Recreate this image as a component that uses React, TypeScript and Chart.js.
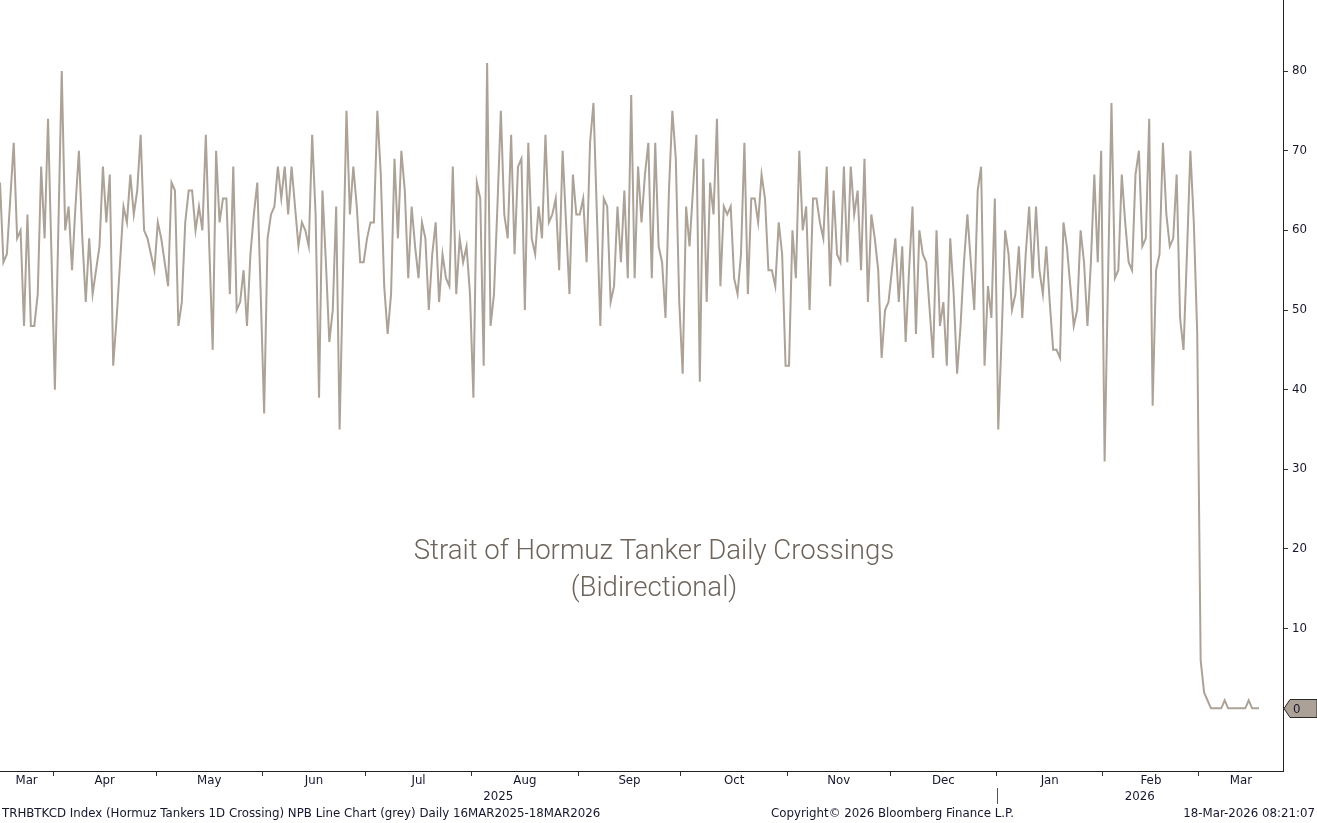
import React, { useEffect, useRef } from 'react';
import { Chart, registerables } from 'chart.js';

Chart.register(...registerables);

// Daily series, one value per day starting 16-Mar-2025 (day 0) to 18-Mar-2026 (day 367)
const startDate = '2025-03-16';
const crossings: number[] = [
  66, 56, 57, 64, 71, 59, 60, 48, 62, 48, 48, 52, 68, 59, 74, 57, 40, 60, 80, 60,
  63, 55, 63, 70, 59, 51, 59, 52, 55, 58, 68, 61, 67, 43, 49, 56, 63, 61, 67, 62,
  65, 72, 60, 59, 57, 55, 61, 59, 56, 53, 66, 65, 48, 51, 61, 65, 65, 60, 63, 60,
  72, 58, 45, 70, 61, 64, 64, 52, 68, 50, 51, 55, 48, 57, 62, 66, 52, 37, 59, 62,
  63, 68, 64, 68, 62, 68, 63, 58, 61, 60, 58, 72, 62, 39, 65, 56, 46, 50, 63, 35,
  55, 75, 62, 68, 63, 56, 56, 59, 61, 61, 75, 67, 53, 47, 52, 69, 59, 70, 65, 54,
  63, 58, 54, 61, 59, 50, 57, 61, 51, 57, 54, 53, 68, 52, 59, 56, 58, 52, 39, 66,
  64, 43, 81, 48, 52, 63, 75, 62, 59, 72, 57, 68, 69, 50, 71, 59, 57, 63, 59, 72,
  61, 62, 64, 55, 70, 61, 52, 67, 62, 62, 64, 56, 71, 76, 62, 48, 64, 63, 51, 53,
  63, 56, 65, 54, 77, 54, 68, 61, 67, 71, 54, 71, 58, 56, 49, 65, 75, 69, 51, 42,
  63, 58, 65, 72, 41, 69, 51, 66, 62, 74, 53, 63, 62, 63, 54, 52, 57, 71, 52, 64,
  64, 61, 67, 64, 55, 55, 53, 61, 57, 43, 43, 60, 54, 70, 60, 63, 50, 64, 64, 61,
  59, 68, 53, 65, 57, 56, 68, 56, 68, 62, 65, 55, 69, 51, 62, 59, 55, 44, 50, 51,
  55, 59, 51, 58, 46, 55, 63, 47, 60, 57, 56, 50, 44, 60, 48, 51, 43, 59, 52, 42,
  48, 56, 62, 56, 50, 65, 68, 43, 53, 49, 64, 35, 47, 60, 57, 50, 52, 58, 49, 57,
  63, 54, 63, 55, 52, 58, 51, 45, 45, 44, 61, 58, 53, 48, 50, 60, 56, 48, 56, 67,
  56, 70, 31, 54, 76, 54, 55, 67, 61, 56, 55, 67, 70, 58, 59, 74, 38, 55, 57, 71,
  62, 58, 59, 67, 49, 45, 57, 70, 61, 47, 6, 2, 1, 0, 0, 0, 0, 1, 0, 0,
  0, 0, 0, 0, 1, 0, 0, 0,
];

const monthLabels = ['Mar', 'Apr', 'May', 'Jun', 'Jul', 'Aug', 'Sep', 'Oct', 'Nov', 'Dec', 'Jan', 'Feb', 'Mar'];
const monthStarts = [
  '2025-04-01', '2025-05-01', '2025-06-01', '2025-07-01', '2025-08-01', '2025-09-01',
  '2025-10-01', '2025-11-01', '2025-12-01', '2026-01-01', '2026-02-01', '2026-03-01',
];
const yearLabels = ['2025', '2026'];
const yearStart = '2026-01-01';
const yTickValues = [0, 10, 20, 30, 40, 50, 60, 70, 80];

const titleLines = ['Strait of Hormuz Tanker Daily Crossings', '(Bidirectional)'];
const footerLeft = 'TRHBTKCD Index (Hormuz Tankers 1D Crossing) NPB Line Chart (grey) Daily 16MAR2025-18MAR2026';
const footerMid = 'Copyright\u00A9 2026 Bloomberg Finance L.P.';
const footerRight = '18-Mar-2026 08:21:07';
const lastValueLabel = '0';

const DAY = 86400000;
const dayIndex = (iso: string) =>
  Math.round((Date.parse(iso + 'T00:00:00Z') - Date.parse(startDate + 'T00:00:00Z')) / DAY);

const LINE_COLOR = '#aca297';
const TEXT_COLOR = '#16162e';
const AXIS_FAMILY = "'DejaVu Sans', 'Liberation Sans', sans-serif";
const AXIS_FONT = '11.8px ' + AXIS_FAMILY;

export default function App() {
  const canvasRef = useRef<HTMLCanvasElement | null>(null);

  useEffect(() => {
    document.body.style.margin = '0';
    const canvas = canvasRef.current;
    if (!canvas) return;

    const X_MAX = 374;
    const monthIdx = monthStarts.map(dayIndex);
    const yearIdx = dayIndex(yearStart);

    const overlay = {
      id: 'bbgOverlay',
      afterDraw(chart: any) {
        const ctx = chart.ctx as CanvasRenderingContext2D;
        const xs = chart.scales.x;
        const ys = chart.scales.y;
        const area = chart.chartArea;
        ctx.save();

        // centered title
        ctx.fillStyle = '#6d645b';
        ctx.font = "300 27.6px Roboto, 'Noto Sans', sans-serif";
        ctx.textAlign = 'center';
        ctx.textBaseline = 'middle';
        ctx.fillText(titleLines[0], 654, 552);
        ctx.fillText(titleLines[1], 654, 589);

        // month labels
        ctx.font = AXIS_FONT;
        ctx.fillStyle = TEXT_COLOR;
        const bounds = [xs.min, ...monthIdx.map((d) => d - 0.5), xs.max];
        monthLabels.forEach((lab, i) => {
          const a = xs.getPixelForValue(bounds[i]);
          const b = xs.getPixelForValue(bounds[i + 1]);
          ctx.fillText(lab, (a + b) / 2, 781);
        });

        // year labels
        const yb = [xs.min, yearIdx - 0.5, xs.max];
        yearLabels.forEach((lab, i) => {
          const a = xs.getPixelForValue(yb[i]);
          const b = xs.getPixelForValue(yb[i + 1]);
          ctx.fillText(lab, (a + b) / 2, 797);
        });
        const sx = Math.round(xs.getPixelForValue(yearIdx - 0.5)) + 0.5;
        ctx.strokeStyle = '#555';
        ctx.lineWidth = 1;
        ctx.beginPath();
        ctx.moveTo(sx, 788);
        ctx.lineTo(sx, 804);
        ctx.stroke();

        // footer
        ctx.textAlign = 'left';
        ctx.fillText(footerLeft, 2, 814);
        ctx.fillText(footerMid, 771, 814);
        ctx.textAlign = 'right';
        ctx.fillText(footerRight, 1315, 814);

        // last value tag
        const ty = Math.round(ys.getPixelForValue(crossings[crossings.length - 1])) + 0.5;
        const x0 = area.right + 1;
        ctx.beginPath();
        ctx.moveTo(x0, ty);
        ctx.lineTo(x0 + 6, ty - 9);
        ctx.lineTo(1317, ty - 9);
        ctx.lineTo(1317, ty + 9);
        ctx.lineTo(x0 + 6, ty + 9);
        ctx.closePath();
        ctx.fillStyle = '#aba196';
        ctx.fill();
        ctx.strokeStyle = '#2a2a2a';
        ctx.stroke();
        ctx.fillStyle = TEXT_COLOR;
        ctx.textAlign = 'left';
        ctx.textBaseline = 'middle';
        ctx.fillText(lastValueLabel, x0 + 9, ty + 1);

        ctx.restore();
      },
    };

    const chart = new Chart(canvas, {
      type: 'line',
      data: {
        datasets: [
          {
            data: crossings.map((v, i) => ({ x: i, y: v })),
            borderColor: LINE_COLOR,
            borderWidth: 2,
            pointRadius: 0,
            tension: 0,
            fill: false,
          },
        ],
      },
      options: {
        animation: false,
        responsive: false,
        devicePixelRatio: 1,
        layout: { padding: 0 },
        plugins: { legend: { display: false }, tooltip: { enabled: false }, title: { display: false } },
        scales: {
          x: {
            type: 'linear',
            min: 0,
            max: X_MAX,
            afterBuildTicks: (scale: any) => {
              scale.ticks = monthIdx.map((d) => ({ value: d - 0.5 }));
            },
            afterFit: (scale: any) => {
              scale.height = 52;
              scale.paddingLeft = 0;
              scale.paddingRight = 0;
            },
            ticks: { display: false },
            grid: {
              drawOnChartArea: false,
              drawTicks: true,
              tickLength: 5,
              tickColor: '#333',
            },
            border: { display: true, color: '#222', width: 1 },
          },
          y: {
            position: 'right',
            min: -7.87,
            max: 88.92,
            afterBuildTicks: (scale: any) => {
              scale.ticks = yTickValues.map((v) => ({ value: v }));
            },
            afterFit: (scale: any) => {
              scale.width = 34;
              scale.paddingTop = 0;
              scale.paddingBottom = 0;
            },
            ticks: {
              padding: 4,
              color: TEXT_COLOR,
              font: { family: AXIS_FAMILY, size: 11.8 },
              callback: (v: any) => (v === 0 ? '' : String(v)),
            },
            grid: {
              drawOnChartArea: false,
              drawTicks: true,
              tickLength: 5,
              tickColor: '#333',
            },
            border: { display: true, color: '#222', width: 1 },
          },
        },
      },
      plugins: [overlay],
    });

    return () => chart.destroy();
  }, []);

  return (
    <div style={{ position: 'relative', width: 1317, height: 823, background: '#fff' }}>
      <canvas ref={canvasRef} width={1317} height={823} style={{ display: 'block' }} />
    </div>
  );
}
